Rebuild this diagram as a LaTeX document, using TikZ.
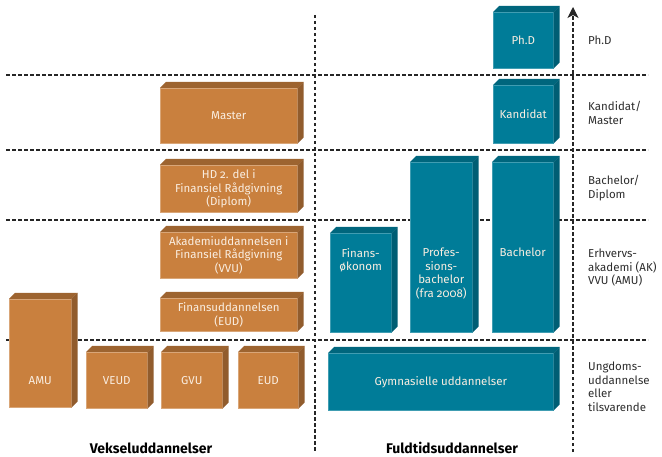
\documentclass[tikz,border=0pt]{standalone}
\usepackage{fontspec}
\setmainfont[Numbers=OldStyle]{Fira Sans}
\usepackage{tikz}
\usetikzlibrary{arrows.meta,calc}
\definecolor{eduorange}{RGB}{201,128,62}
\definecolor{eduteal}{RGB}{0,124,152}
\definecolor{edutext}{RGB}{250,238,225}
\definecolor{edugray}{RGB}{45,45,45}
\newcommand{\boxfont}{\fontsize{11.5}{13.5}\selectfont}
\tikzstyle{gridline} = [line width=1.1pt, dash pattern=on 3.5pt off 2.5pt, color=black!85]
\tikzstyle{orangebox} = [rectangle, anchor=north west, inner sep=0pt, fill=eduorange, draw=eduorange!70!white, line width=0.5pt, text=edutext, align=center, font=\boxfont]
\tikzstyle{tealbox} = [rectangle, anchor=north west, inner sep=0pt, fill=eduteal, draw=eduteal!75!white, line width=0.5pt, text=edutext, align=center, font=\boxfont]
\tikzstyle{boxlabel} = [inner sep=0pt, text=edutext, align=center, font=\boxfont]
\tikzstyle{levellabel} = [anchor=west, inner sep=0pt, text=edugray, align=left, font=\boxfont]
\tikzstyle{grouplabel} = [inner sep=0pt, text=black, font=\fontsize{14}{16}\selectfont\bfseries]

\begin{document}
\begin{tikzpicture}[x=1pt, y=-1pt]
\useasboundingbox (0,0) rectangle (662,457);

% Level lines
\foreach \y [count=\i] in {75,150,220,340} {
  \coordinate (hl\i w) at (6,\y);
  \coordinate (hl\i e) at (648,\y);
  \draw[gridline] (hl\i w) -- (hl\i e);
}
\coordinate (midtop) at (315,15);
\coordinate (midbot) at (315,452);
\draw[gridline] (midtop) -- (midbot);
\coordinate (axbot) at (573,452);
\coordinate (axtop) at (573,7);
\draw[gridline, -{Stealth[length=11pt, width=11pt, inset=3pt]}] (axbot) -- (axtop);

% Vekseluddannelser
\node[orangebox, minimum width=137pt, minimum height=55pt] (master) at (160,88) {Master};
\node[orangebox, minimum width=137pt, minimum height=47pt] (hd) at (160,165) {HD 2. del i\\Finansiel Rådgivning\\(Diplom)};
\node[orangebox, minimum width=137pt, minimum height=46pt] (akad) at (160,232) {Akademiuddannelsen i\\Finansiel Rådgivning\\(VVU)};
\node[orangebox, minimum width=137pt, minimum height=33pt] (finud) at (160,298) {Finansuddannelsen\\(EUD)};
\node[orangebox, minimum width=62pt, minimum height=108pt,
  label={[boxlabel, anchor=center, yshift=27pt]south:AMU}] (amu) at (9,299) {};
\node[orangebox, minimum width=61pt, minimum height=56pt] (veud) at (86,352) {VEUD};
\node[orangebox, minimum width=61pt, minimum height=56pt] (gvu) at (161,352) {GVU};
\node[orangebox, minimum width=60pt, minimum height=56pt] (eud) at (238,352) {EUD};

% Fuldtidsuddannelser
\node[tealbox, minimum width=225pt, minimum height=57pt] (gym) at (328,353) {Gymnasielle uddannelser};
\node[tealbox, minimum width=61pt, minimum height=99pt,
  label={[boxlabel, anchor=north, yshift=-15pt]north:Finans-\\økonom}] (finok) at (330,233) {};
\node[tealbox, minimum width=62pt, minimum height=170pt,
  label={[boxlabel, anchor=north, yshift=-86pt]north:Profes-\\sions-\\bachelor\\(fra 2008)}] (prof) at (410,162) {};
\node[tealbox, minimum width=61pt, minimum height=170pt,
  label={[boxlabel, anchor=north, yshift=-86pt]north:Bachelor}] (bach) at (492,162) {};
\node[tealbox, minimum width=60pt, minimum height=58pt] (kand) at (493,85) {Kandidat};
\node[tealbox, minimum width=60pt, minimum height=56pt] (phd) at (493,12) {Ph.D};

% 3D faces
\foreach \n in {master,hd,akad,finud,amu,veud,gvu,eud} {
  \fill[eduorange!78!black] (\n.north west) -- ++(6,-6) -- ($(\n.north east)+(6,-6)$) -- (\n.north east) -- cycle;
  \fill[eduorange!72!black] (\n.north east) -- ++(6,-6) -- ($(\n.south east)+(6,-6)$) -- (\n.south east) -- cycle;
}
\foreach \n in {gym,finok,prof,bach,kand,phd} {
  \fill[eduteal!82!black] (\n.north west) -- ++(6,-6) -- ($(\n.north east)+(6,-6)$) -- (\n.north east) -- cycle;
  \fill[eduteal!76!black] (\n.north east) -- ++(6,-6) -- ($(\n.south east)+(6,-6)$) -- (\n.south east) -- cycle;
}

% Level labels
\node[levellabel] (lphd) at (588,40) {Ph.D};
\node[levellabel] (lkand) at (588,113) {Kandidat/\\Master};
\node[levellabel] (lbach) at (588,188) {Bachelor/\\Diplom};
\node[levellabel] (lerhv) at (588,268) {Erhvervs-\\akademi (AK)\\VVU (AMU)};
\node[levellabel] (lung) at (588,387) {Ungdoms-\\uddannelse\\eller\\tilsvarende};

% Groups
\node[grouplabel] (veksel) at (151,448) {Vekseluddannelser};
\node[grouplabel] (fuldtid) at (452,448) {Fuldtidsuddannelser};
\end{tikzpicture}
\end{document}
